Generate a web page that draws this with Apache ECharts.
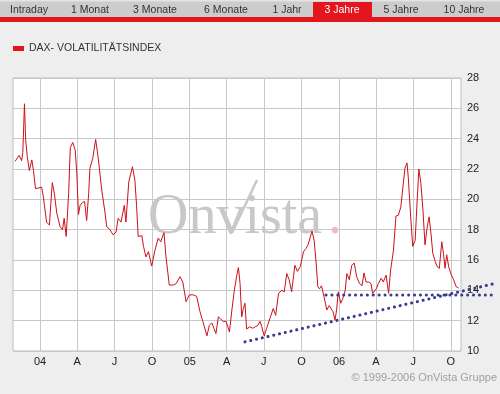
<!DOCTYPE html>
<html>
<head>
<meta charset="utf-8">
<script src="https://cdn.jsdelivr.net/npm/echarts@6/dist/echarts.min.js"></script>
<style>
html,body{margin:0;padding:0;background:#eeeeee;}
#chart{width:500px;height:394px;}
</style>
</head>
<body>
<div id="chart"></div>
<script>
const seriesName = 'DAX- VOLATILITÄTSINDEX';

const dates = [
'2003-11-01','2003-11-11','2003-11-17','2003-11-20','2003-11-24','2003-11-27','2003-12-01','2003-12-06','2003-12-12','2003-12-16','2003-12-21','2003-12-24',
'2004-01-05','2004-01-09','2004-01-17','2004-01-24','2004-01-31','2004-02-05','2004-02-11','2004-02-19','2004-02-25','2004-02-29','2004-03-05','2004-03-11','2004-03-15','2004-03-21','2004-03-27','2004-03-31',
'2004-04-04','2004-04-08','2004-04-14','2004-04-19','2004-04-24','2004-04-29','2004-05-02','2004-05-09','2004-05-16','2004-05-22','2004-05-31','2004-06-08','2004-06-12','2004-06-20','2004-06-28',
'2004-07-05','2004-07-10','2004-07-17','2004-07-25','2004-07-29','2004-08-05','2004-08-14','2004-08-20','2004-08-24','2004-08-28','2004-09-01','2004-09-06','2004-09-10','2004-09-16','2004-09-22','2004-09-30',
'2004-10-08','2004-10-16','2004-10-22','2004-10-30','2004-11-04','2004-11-12','2004-11-22','2004-11-29','2004-12-08','2004-12-15','2004-12-23','2004-12-31',
'2005-01-10','2005-01-18','2005-01-26','2005-02-02','2005-02-12','2005-02-18','2005-02-24','2005-03-01','2005-03-06','2005-03-12','2005-03-18','2005-03-24','2005-03-31',
'2005-04-03','2005-04-08','2005-04-14','2005-04-20','2005-04-26','2005-04-30','2005-05-04','2005-05-08','2005-05-12','2005-05-16','2005-05-20','2005-05-28','2005-06-04','2005-06-10','2005-06-15','2005-06-22','2005-06-26',
'2005-07-02','2005-07-08','2005-07-16','2005-07-24','2005-07-30','2005-08-06','2005-08-14','2005-08-20','2005-08-26','2005-09-01','2005-09-07','2005-09-15','2005-09-21','2005-09-28',
'2005-10-06','2005-10-12','2005-10-17','2005-10-27','2005-11-01','2005-11-06','2005-11-10','2005-11-14','2005-11-19','2005-11-25','2005-12-02','2005-12-08','2005-12-17','2005-12-22','2005-12-26','2005-12-30',
'2006-01-05','2006-01-10','2006-01-16','2006-01-20','2006-01-26','2006-02-01','2006-02-07','2006-02-13','2006-02-20','2006-02-26','2006-03-03','2006-03-08','2006-03-14','2006-03-20','2006-03-24',
'2006-04-02','2006-04-07','2006-04-14','2006-04-19','2006-04-26','2006-05-02','2006-05-07','2006-05-14','2006-05-20','2006-05-26','2006-06-01','2006-06-06','2006-06-11','2006-06-16','2006-06-19','2006-06-25','2006-06-30',
'2006-07-06','2006-07-10','2006-07-15','2006-07-20','2006-07-25','2006-07-30','2006-08-04','2006-08-09','2006-08-14','2006-08-18','2006-08-24','2006-08-29','2006-09-03','2006-09-09','2006-09-13','2006-09-17','2006-09-21','2006-09-26',
'2006-10-01','2006-10-08','2006-10-14','2006-10-20'
];

const values = [
22.5,22.9,22.55,23.1,26.3,23.9,22.8,21.9,22.6,21.9,20.7,20.8,
20.8,20.2,18.5,18.3,21.1,20.4,19.1,18.2,18.0,18.75,17.55,20.4,23.4,23.75,23.25,21.7,
19.0,19.6,19.8,19.85,18.6,20.4,22.05,22.7,23.95,22.8,20.6,19.1,18.2,18.0,17.65,
17.85,18.75,18.5,19.6,18.5,21.15,22.15,21.25,19.6,17.55,17.55,17.6,16.9,16.2,16.55,15.6,
16.65,17.45,17.2,17.8,16.2,14.35,14.35,14.45,14.9,14.55,13.25,13.7,
13.7,13.6,12.6,11.95,11.0,11.7,11.85,11.5,11.15,12.25,12.1,11.95,11.95,
12.05,11.25,12.7,14.0,15.0,15.5,14.45,12.25,12.8,13.15,11.45,11.6,11.5,11.6,11.65,11.95,11.6,
11.0,11.5,12.15,12.8,12.35,13.8,14.0,13.9,15.1,14.7,13.9,15.65,15.25,15.55,
16.55,16.75,17.0,17.9,17.3,15.8,14.25,14.1,14.3,13.6,12.7,13.0,12.6,12.05,12.7,13.9,
13.15,13.45,14.0,15.1,14.7,15.65,15.8,14.9,14.45,14.3,15.15,14.55,14.55,14.45,13.8,
14.1,14.45,14.8,14.55,15.0,13.8,15.35,16.65,18.9,18.95,19.5,20.8,22.05,22.4,21.5,18.85,16.9,
17.3,19.5,22.0,21.05,19.3,17.0,18.1,18.85,17.65,16.45,15.9,15.55,15.45,17.2,16.45,15.45,16.35,15.55,
15.1,14.7,14.25,14.15
];

// dotted trend lines (they run past the right edge of the plot)
const trendUpDates = ['2005-05-16','2007-01-12'];
const trendUpValues = [10.6, 14.42];
const trendFlatDates = ['2005-11-30','2007-01-12'];
const trendFlatValues = [13.69, 13.69];

// axis
const xStart = '2003-10-27';
const xEnd = '2006-10-26';
const tickDates = ['2004-01-01','2004-04-01','2004-07-01','2004-10-01','2005-01-01','2005-04-01','2005-07-01','2005-10-01','2006-01-01','2006-04-01','2006-07-01','2006-10-01'];
const tickLabels = ['04','A','J','O','05','A','J','O','06','A','J','O'];
const yMin = 10, yMax = 28, yStep = 2;

const tabs = ['Intraday','1 Monat','3 Monate','6 Monate','1 Jahr','3 Jahre','5 Jahre','10 Jahre'];
const tabCenters = [29, 90, 155, 226, 287, 342, 401, 464];
const activeTab = 5;

function parseDay(s){ const p = s.split('-'); return Date.UTC(+p[0], +p[1]-1, +p[2]); }
const tickTimes = tickDates.map(parseDay);

const FONT = '"Liberation Sans", Arial, sans-serif';
const SERIF = '"Liberation Serif", "DejaVu Serif", serif';
const RED = '#e2161c';

// plot box
const PLOT = {left:13, top:78, width:448, height:273};
const OVER_WIDTH = 481; // wider overlay for trend lines drawn past the plot edge
const xMinT = parseDay(xStart), xMaxT = parseDay(xEnd);
const xMaxOver = xMinT + (xMaxT - xMinT) * OVER_WIDTH / PLOT.width;

const chart = echarts.init(document.getElementById('chart'), null, {renderer:'canvas'});

const graphics = [
  {type:'rect', shape:{x:0,y:0,width:500,height:18}, style:{fill:'#cccccc'}, z:0},
  {type:'rect', shape:{x:0,y:0,width:500,height:1.5}, style:{fill:'#e4e4e4'}, z:0},
  {type:'rect', shape:{x:0,y:17,width:500,height:5}, style:{fill:RED}, z:0},
  {type:'rect', shape:{x:313,y:2,width:59,height:18}, style:{fill:RED}, z:0}
];
tabs.forEach((t,i)=>{
  graphics.push({type:'text', x:tabCenters[i], y:10.5, z:1, style:{text:t, fill: i===activeTab ? '#ffffff' : '#333333', font:'10.5px ' + FONT, textAlign:'center', textVerticalAlign:'middle'}});
});
graphics.push({type:'text', x:148, y:218, z:1, silent:true, style:{text:'Onvista', fill:'#c8c8c8', font:'56px ' + SERIF, textAlign:'left', textVerticalAlign:'middle'}});
graphics.push({type:'line', z:1, silent:true, shape:{x1:232, y1:233, x2:257, y2:180}, style:{stroke:'#c8c8c8', lineWidth:2.5}});
graphics.push({type:'text', x:328, y:218, z:1, silent:true, style:{text:'.', fill:'#ebbcc2', font:'56px ' + SERIF, textAlign:'left', textVerticalAlign:'middle'}});
graphics.push({type:'text', right:3, top:372, z:1, style:{text:'© 1999-2006 OnVista Gruppe', fill:'#a0a0a0', font:'11px ' + FONT}});

const option = {
  animation:false,
  backgroundColor:'#eeeeee',
  textStyle:{fontFamily:FONT},
  graphic: graphics,
  legend:{
    data:[seriesName], left:13, top:43, padding:0, icon:'rect', itemWidth:11, itemHeight:5,
    textStyle:{fontSize:10.5, color:'#333', fontFamily:FONT}
  },
  grid:[
    {left:PLOT.left, top:PLOT.top, width:PLOT.width, height:PLOT.height, show:true, backgroundColor:'#ffffff', borderColor:'#bdbdbd', borderWidth:1},
    {left:PLOT.left, top:PLOT.top, width:OVER_WIDTH, height:PLOT.height, show:false}
  ],
  xAxis:[{
    type:'value', gridIndex:0, min:xMinT, max:xMaxT,
    axisLine:{show:false}, axisTick:{show:false, customValues:tickTimes},
    axisLabel:{customValues:tickTimes, margin:5, color:'#222', fontSize:11, fontFamily:FONT,
      formatter:function(v){ const i = tickTimes.indexOf(v); return i>=0 ? tickLabels[i] : ''; }},
    splitLine:{show:true, lineStyle:{color:'#c8c8c8', width:1}}
  },{
    type:'value', gridIndex:1, min:xMinT, max:xMaxOver, show:false, splitLine:{show:false}
  }],
  yAxis:[{
    type:'value', gridIndex:0, position:'right', min:yMin, max:yMax, interval:yStep,
    axisLine:{show:false}, axisTick:{show:false},
    axisLabel:{margin:6, color:'#222', fontSize:11, fontFamily:FONT},
    splitLine:{lineStyle:{color:'#c8c8c8', width:1}}
  },{
    type:'value', gridIndex:1, min:yMin, max:yMax, show:false, splitLine:{show:false}
  }],
  series:[
    {name:seriesName, type:'line', data:dates.map((d,i)=>[parseDay(d), values[i]]), showSymbol:false, symbol:'none', z:3,
      lineStyle:{color:'#cc1119', width:1}, itemStyle:{color:RED}},
    {name:'trendUp', type:'line', xAxisIndex:1, yAxisIndex:1, data:trendUpDates.map((d,i)=>[parseDay(d), trendUpValues[i]]), showSymbol:false, symbol:'none', clip:false, z:4,
      lineStyle:{color:'#3a3a8e', width:3, type:[0.1,5.8], cap:'round'}},
    {name:'trendFlat', type:'line', xAxisIndex:1, yAxisIndex:1, data:trendFlatDates.map((d,i)=>[parseDay(d), trendFlatValues[i]]), showSymbol:false, symbol:'none', clip:false, z:4,
      lineStyle:{color:'#3a3a8e', width:3, type:[0.1,5.8], cap:'round'}}
  ]
};
chart.setOption(option);
</script>
</body>
</html>
